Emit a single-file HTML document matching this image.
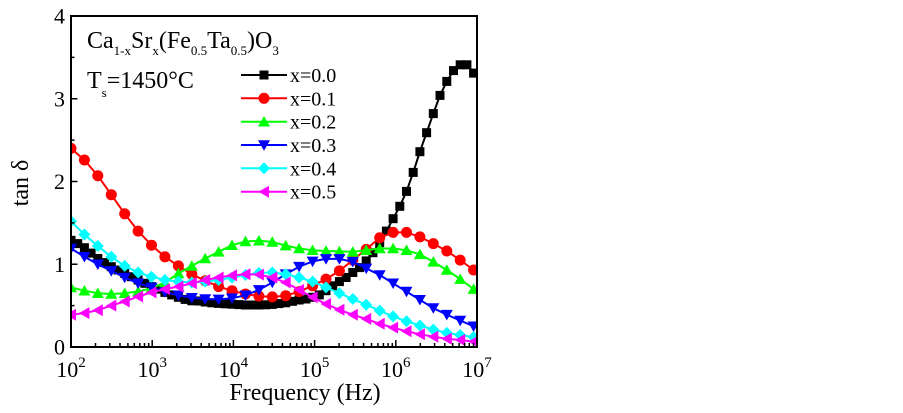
<!DOCTYPE html>
<html>
<head>
<meta charset="utf-8">
<style>
html,body{margin:0;padding:0;background:#fff;}
svg{display:block;}
text{font-family:"Liberation Serif",serif;fill:#000;}
</style>
</head>
<body>
<svg width="903" height="413" viewBox="0 0 903 413" xmlns="http://www.w3.org/2000/svg">
<rect x="0" y="0" width="903" height="413" fill="#fff"/>
<defs>
<clipPath id="plot"><rect x="71" y="16" width="406" height="331"/></clipPath>
<marker id="mK" markerUnits="userSpaceOnUse" markerWidth="10" markerHeight="10" refX="4.5" refY="4.5" overflow="visible"><rect x="0" y="0" width="9" height="9" fill="#000"/></marker>
<marker id="mR" markerUnits="userSpaceOnUse" markerWidth="10" markerHeight="10" refX="5" refY="5" overflow="visible"><circle cx="5" cy="5" r="5.5" fill="#ff0000"/></marker>
<marker id="mG" markerUnits="userSpaceOnUse" markerWidth="10" markerHeight="10" refX="5" refY="5.2" overflow="visible"><polygon points="5,-0.5 11,10 -1,10" fill="#00ff00"/></marker>
<marker id="mB" markerUnits="userSpaceOnUse" markerWidth="10" markerHeight="10" refX="5" refY="4.8" overflow="visible"><polygon points="-1,0 11,0 5,10.5" fill="#0000ff"/></marker>
<marker id="mC" markerUnits="userSpaceOnUse" markerWidth="10" markerHeight="10" refX="5" refY="5" overflow="visible"><polygon points="5,-1 11,5 5,11 -1,5" fill="#00ffff"/></marker>
<marker id="mM" markerUnits="userSpaceOnUse" markerWidth="10" markerHeight="10" refX="5" refY="5" overflow="visible"><polygon points="-0.5,5 10,-1 10,11" fill="#ff00ff"/></marker>
</defs>

<g clip-path="url(#plot)" fill="none" stroke-width="2" stroke-linejoin="round">
<polyline stroke="#000" marker-start="url(#mK)" marker-mid="url(#mK)" marker-end="url(#mK)" points="71,240.3 77.7,243.6 84.4,247.7 91.1,253.1 97.8,258.5 104.6,262.6 111.3,266.7 118,270 124.7,273.4 131.4,276.7 138.1,280 144.8,283.3 151.5,286.6 158.2,289.1 164.9,292.4 171.7,294.9 178.4,297.3 185.1,299.4 191.8,300.8 198.5,301 205.2,302 211.9,302.8 218.6,303.4 225.3,303.8 232,304.2 238.8,304.6 245.5,305 252.2,305 258.9,305 265.6,304.8 272.3,304.4 279,303.6 285.7,302.8 292.4,301.3 299.1,300 305.9,299 312.6,297.3 319.3,294.9 326,290.7 332.7,285.8 339.4,281.6 346.1,277.5 352.8,272.5 359.5,267.6 366.2,260.9 372.9,252.7 379.7,242.7 386.4,231.1 393.1,218.7 399.8,206.3 406.5,191.4 413.2,172.4 419.9,151.7 426.6,132.7 433.3,113.6 440,95.4 446.8,81.4 453.5,70.6 460.2,64.8 466.9,64.8 473.6,73.1"/>
<polyline stroke="#ff0000" marker-start="url(#mR)" marker-mid="url(#mR)" marker-end="url(#mR)" points="71,148.4 84.4,160 97.8,175.7 111.3,194.7 124.7,213.8 138.1,231.1 151.5,245.2 164.9,256.8 178.4,265.9 191.8,274.2 205.2,280.8 218.6,286.6 232,290.7 245.5,294 258.9,296.1 272.3,296.9 285.7,295.7 299.1,291.6 312.6,285.8 326,279.1 339.4,270.9 352.8,260.1 366.2,249.4 379.7,237.8 393.1,232.4 406.5,232.4 419.9,236.9 433.3,243.6 446.8,251 460.2,260.1 473.6,270"/>
<polyline stroke="#00ff00" marker-start="url(#mG)" marker-mid="url(#mG)" marker-end="url(#mG)" points="71,287.4 84.4,290.7 97.8,293.2 111.3,294 124.7,293.2 138.1,291.6 151.5,288.2 164.9,282.5 178.4,273.4 191.8,265.9 205.2,258.5 218.6,251.8 232,245.2 245.5,241.5 258.9,240.7 272.3,241.9 285.7,245.6 299.1,248.5 312.6,250.2 326,251 339.4,251.4 352.8,251.8 366.2,250.2 379.7,248.5 393.1,248.5 406.5,250.2 419.9,254.3 433.3,261.8 446.8,270 460.2,279.1 473.6,289.1"/>
<polyline stroke="#0000ff" marker-start="url(#mB)" marker-mid="url(#mB)" marker-end="url(#mB)" points="71,248.5 84.4,256.8 97.8,264.3 111.3,270.9 124.7,277.5 138.1,283.3 151.5,287.4 164.9,292 178.4,295.3 191.8,297.8 205.2,299 218.6,299.4 232,298.2 245.5,295.3 258.9,289.9 272.3,282.5 285.7,274.2 299.1,266.7 312.6,261.4 326,258.9 339.4,258.9 352.8,261.8 366.2,268.4 379.7,275 393.1,283.3 406.5,291.6 419.9,299.8 433.3,308.1 446.8,314.7 460.2,320.5 473.6,326.3"/>
<polyline stroke="#00ffff" marker-start="url(#mC)" marker-mid="url(#mC)" marker-end="url(#mC)" points="71,221.2 84.4,234.5 97.8,246 111.3,256.8 124.7,265.9 138.1,272.5 151.5,276.7 164.9,280 178.4,281.6 191.8,282.5 205.2,281.6 218.6,280 232,277.5 245.5,275 258.9,272.9 272.3,272.5 285.7,274.2 299.1,277.5 312.6,281.6 326,287.4 339.4,293.2 352.8,299 366.2,304.8 379.7,310.6 393.1,316.4 406.5,321.3 419.9,325.5 433.3,329.6 446.8,332.9 460.2,335 473.6,337.1"/>
<polyline stroke="#ff00ff" marker-start="url(#mM)" marker-mid="url(#mM)" marker-end="url(#mM)" points="71,314.7 84.4,313.1 97.8,310.2 111.3,305.6 124.7,301.5 138.1,296.5 151.5,292.4 164.9,289.1 178.4,286.6 191.8,283.3 205.2,280 218.6,277.5 232,275.4 245.5,274.2 258.9,274.6 272.3,277.5 285.7,282.5 299.1,289.9 312.6,297.3 326,304 339.4,309.8 352.8,314.7 366.2,318.9 379.7,323.8 393.1,327.6 406.5,331.3 419.9,334.2 433.3,336.7 446.8,338.7 460.2,340 473.6,341.6"/>
</g>

<!-- frame -->
<rect x="71" y="16" width="406" height="331" fill="none" stroke="#000" stroke-width="2"/>

<!-- x ticks -->
<g stroke="#000" stroke-width="1.5" fill="none">
<path d="M152.2,347v-7 M233.4,347v-7 M314.6,347v-7 M395.8,347v-7"/>
<path d="M95.5,347v-4 M109.8,347v-4 M120,347v-4 M127.9,347v-4 M134.3,347v-4 M139.8,347v-4 M144.5,347v-4 M148.7,347v-4
M176.7,347v-4 M191,347v-4 M201.2,347v-4 M209.1,347v-4 M215.5,347v-4 M221,347v-4 M225.7,347v-4 M229.9,347v-4
M257.9,347v-4 M272.2,347v-4 M282.4,347v-4 M290.3,347v-4 M296.7,347v-4 M302.2,347v-4 M306.9,347v-4 M311.1,347v-4
M339.1,347v-4 M353.4,347v-4 M363.6,347v-4 M371.5,347v-4 M377.9,347v-4 M383.4,347v-4 M388.1,347v-4 M392.3,347v-4
M420.3,347v-4 M434.6,347v-4 M444.8,347v-4 M452.7,347v-4 M459.1,347v-4 M464.6,347v-4 M469.3,347v-4 M473.5,347v-4"/>
<!-- y ticks -->
<path d="M71,264.25h6.5 M71,181.5h6.5 M71,98.75h6.5"/>
<path d="M71,305.6h3.5 M71,222.9h3.5 M71,140.1h3.5 M71,57.4h3.5"/>
</g>

<!-- y tick labels -->
<g font-size="22" text-anchor="end">
<text x="65" y="354.5">0</text>
<text x="65" y="271.8">1</text>
<text x="65" y="189">2</text>
<text x="65" y="106.3">3</text>
<text x="65" y="23.5">4</text>
</g>

<!-- x tick labels -->
<g font-size="22" text-anchor="middle">
<text x="71" y="377">10<tspan font-size="15" dy="-10">2</tspan></text>
<text x="152.2" y="377">10<tspan font-size="15" dy="-10">3</tspan></text>
<text x="233.4" y="377">10<tspan font-size="15" dy="-10">4</tspan></text>
<text x="314.6" y="377">10<tspan font-size="15" dy="-10">5</tspan></text>
<text x="395.8" y="377">10<tspan font-size="15" dy="-10">6</tspan></text>
<text x="477" y="377">10<tspan font-size="15" dy="-10">7</tspan></text>
</g>

<!-- axis titles -->
<text x="305" y="400" font-size="24" text-anchor="middle">Frequency (Hz)</text>
<text transform="translate(28,183) rotate(-90)" font-size="24" text-anchor="middle">tan δ</text>

<!-- annotations -->
<text x="87" y="48" font-size="24">Ca<tspan font-size="13" dy="7">1-x</tspan><tspan dy="-7">Sr</tspan><tspan font-size="13" dy="7">x</tspan><tspan dy="-7">(Fe</tspan><tspan font-size="13" dy="7">0.5</tspan><tspan dy="-7">Ta</tspan><tspan font-size="13" dy="7">0.5</tspan><tspan dy="-7">)O</tspan><tspan font-size="13" dy="7">3</tspan></text>
<text x="87" y="88" font-size="24">T<tspan font-size="13" dy="9">s</tspan><tspan dy="-9">=1450°C</tspan></text>

<!-- legend -->
<g fill="none" stroke-width="2">
<polyline stroke="#000" marker-mid="url(#mK)" points="241,75 264,75 287,75"/>
<polyline stroke="#ff0000" marker-mid="url(#mR)" points="241,98.3 264,98.3 287,98.3"/>
<polyline stroke="#00ff00" marker-mid="url(#mG)" points="241,121.7 264,121.7 287,121.7"/>
<polyline stroke="#0000ff" marker-mid="url(#mB)" points="241,145 264,145 287,145"/>
<polyline stroke="#00ffff" marker-mid="url(#mC)" points="241,168.3 264,168.3 287,168.3"/>
<polyline stroke="#ff00ff" marker-mid="url(#mM)" points="241,191.7 264,191.7 287,191.7"/>
</g>
<g font-size="20">
<text x="290" y="82">x=0.0</text>
<text x="290" y="105.3">x=0.1</text>
<text x="290" y="128.7">x=0.2</text>
<text x="290" y="152">x=0.3</text>
<text x="290" y="175.3">x=0.4</text>
<text x="290" y="198.7">x=0.5</text>
</g>
</svg>
</body>
</html>
